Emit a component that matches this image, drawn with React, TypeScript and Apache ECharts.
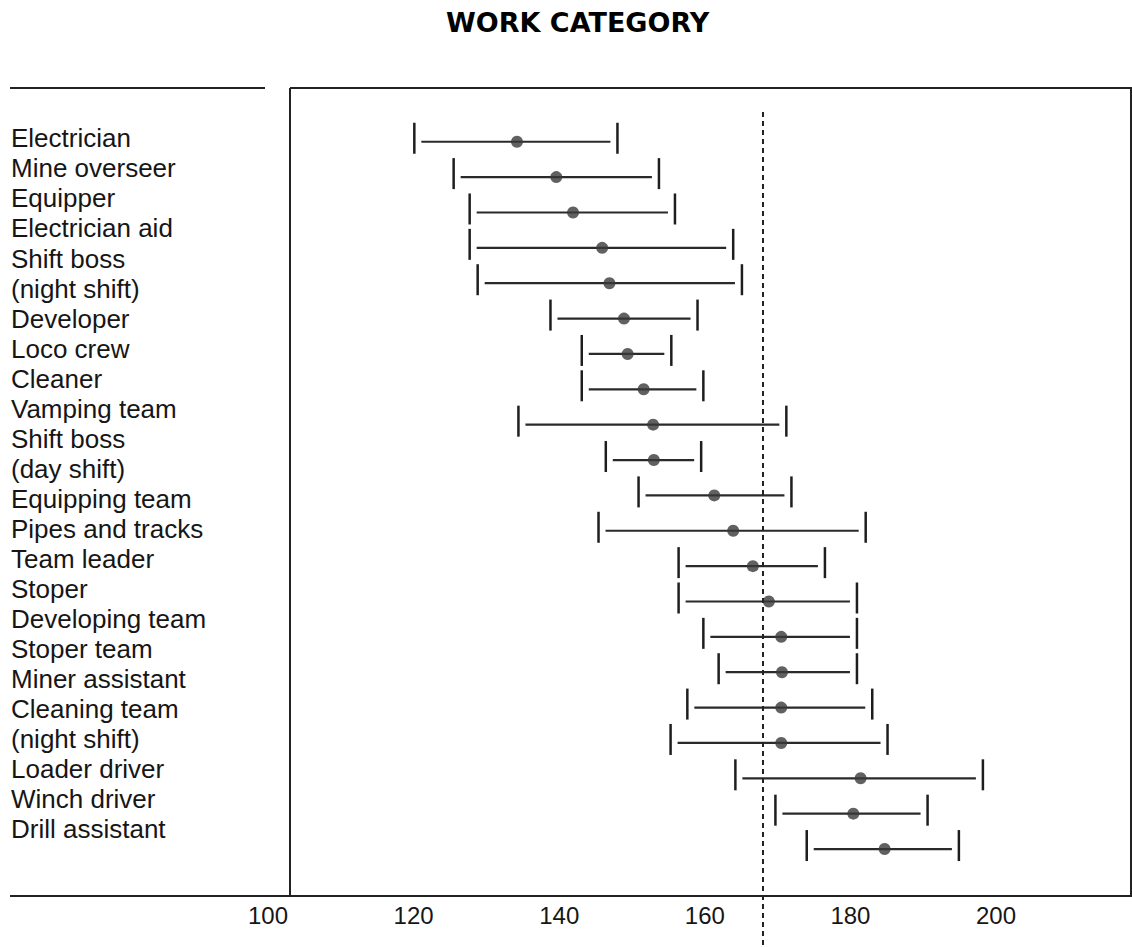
import React, { useEffect, useRef } from "react";
import * as echarts from "echarts";

const title = "WORK CATEGORY";

const categories = [
  "Electrician",
  "Mine overseer",
  "Equipper",
  "Electrician aid",
  "Shift boss\n(night shift)",
  "Developer",
  "Loco crew",
  "Cleaner",
  "Vamping team",
  "Shift boss\n(day shift)",
  "Equipping team",
  "Pipes and tracks",
  "Team leader",
  "Stoper",
  "Developing team",
  "Stoper team",
  "Miner assistant",
  "Cleaning team\n(night shift)",
  "Loader driver",
  "Winch driver",
  "Drill assistant",
];

const lowerValues = [
  120.1, 125.5, 127.7, 127.7, 128.8, 138.8, 143.1, 143.1, 134.4, 146.4, 150.9,
  145.4, 156.4, 156.4, 159.8, 161.9, 157.6, 155.3, 164.2, 169.7, 174.0,
];

const meanValues = [
  134.2, 139.6, 141.9, 145.9, 146.9, 148.9, 149.4, 151.6, 152.9, 153.0, 161.3,
  163.9, 166.6, 168.8, 170.5, 170.6, 170.5, 170.5, 181.4, 180.4, 184.7,
];

const upperValues = [
  148.0, 153.7, 155.9, 163.9, 165.1, 159.0, 155.4, 159.8, 171.2, 159.5, 171.9,
  182.1, 176.5, 180.9, 180.9, 180.9, 183.0, 185.1, 198.2, 190.6, 194.9,
];

const xTickLabels = [100, 120, 140, 160, 180, 200];
const referenceValue = 168;

export default function App() {
  const ref = useRef<HTMLDivElement>(null);

  useEffect(() => {
    if (!ref.current) return;
    const chart = echarts.init(ref.current, null, { renderer: "svg" });

    const X_MIN = 100;
    const X_MAX = 218.68;
    const Y_MIN = -1.52;
    const Y_MAX = 22.77;
    const DASH_START = -0.84;
    const ink = "#222222";

    const barData = categories.map((_, i) => [i, lowerValues[i], upperValues[i]]);
    const dotData = categories.map((_, i) => [meanValues[i], i]);

    // category labels as evenly spaced lines on the left
    const LINE_H = 30.05;
    const LABEL_TOP = 123.3;
    const labelEls: any[] = [];
    let lineIdx = 0;
    categories.forEach((c) => {
      labelEls.push({
        type: "text",
        x: 11,
        y: LABEL_TOP + lineIdx * LINE_H,
        silent: true,
        style: {
          text: c,
          fill: "#161616",
          fontSize: 26,
          fontFamily: '"Liberation Sans", Arial, sans-serif',
          lineHeight: LINE_H,
          align: "left",
          verticalAlign: "top",
        },
      });
      lineIdx += c.split("\n").length;
    });

    const frame = (x1: number, y1: number, x2: number, y2: number) => ({
      type: "line",
      silent: true,
      shape: { x1, y1, x2, y2 },
      style: { stroke: ink, lineWidth: 2 },
    });

    chart.setOption({
      animation: false,
      backgroundColor: "#ffffff",
      title: {
        text: title,
        left: 441,
        top: 4,
        textStyle: {
          fontFamily: '"DejaVu Sans", sans-serif',
          fontWeight: "bold",
          fontSize: 27,
          color: "#000",
        },
      },
      grid: { left: 268, right: 0, top: 88, bottom: 0 },
      xAxis: {
        type: "value",
        min: X_MIN,
        max: X_MAX,
        interval: 20,
        offset: -52,
        axisLine: { show: false },
        axisTick: { show: false },
        splitLine: { show: false },
        axisLabel: {
          margin: 8,
          fontSize: 24,
          lineHeight: 24,
          fontFamily: '"Liberation Sans", Arial, sans-serif',
          color: "#161616",
          showMaxLabel: false,
          formatter: (v: number) => (xTickLabels.includes(Math.round(v * 100) / 100) ? String(v) : ""),
        },
      },
      yAxis: {
        type: "value",
        inverse: true,
        min: Y_MIN,
        max: Y_MAX,
        show: false,
      },
      graphic: [
        frame(10, 88, 265, 88),
        frame(290, 88, 1132, 88),
        frame(290, 88, 290, 896),
        frame(1131, 88, 1131, 896),
        frame(10, 896, 1132, 896),
        ...labelEls,
      ],
      series: [
        {
          type: "custom",
          silent: true,
          encode: { x: [1, 2], y: 0 },
          data: barData,
          renderItem: (params: any, api: any) => {
            const idx = api.value(0);
            const lo = api.coord([api.value(1), idx]);
            const hi = api.coord([api.value(2), idx]);
            const st = { stroke: "#2a2a2a", lineWidth: 2.2 };
            const cap = { stroke: "#1e1e1e", lineWidth: 2.5 };
            return {
              type: "group",
              children: [
                { type: "line", shape: { x1: lo[0] + 7, y1: lo[1], x2: hi[0] - 7, y2: hi[1] }, style: st },
                { type: "line", shape: { x1: lo[0], y1: lo[1] - 19, x2: lo[0], y2: lo[1] + 12 }, style: cap },
                { type: "line", shape: { x1: hi[0], y1: hi[1] - 19, x2: hi[0], y2: hi[1] + 12 }, style: cap },
              ],
            };
          },
          z: 2,
        },
        {
          type: "scatter",
          silent: true,
          data: dotData,
          symbol: "circle",
          symbolSize: 12,
          itemStyle: { color: "#3a3a3a" },
          z: 3,
          markLine: {
            silent: true,
            symbol: "none",
            label: { show: false },
            lineStyle: { type: [5, 4], width: 2, color: ink },
            data: [
              [
                { coord: [referenceValue, DASH_START] },
                { coord: [referenceValue, Y_MAX] },
              ],
            ],
          },
        },
      ],
    });

    return () => chart.dispose();
  }, []);

  return (
    <div
      ref={ref}
      style={{ position: "absolute", left: 0, top: 0, width: 1132, height: 947, background: "#fff" }}
    />
  );
}
